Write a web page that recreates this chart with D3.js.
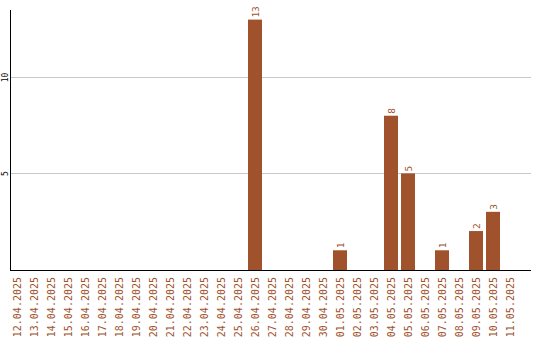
<!DOCTYPE html>
<html><head><meta charset="utf-8">
<script src="https://cdn.jsdelivr.net/npm/d3@7"></script>
<style>body{margin:0;background:#fff}svg{display:block}</style>
</head><body><svg id="c" width="540" height="340"></svg>
<script>
const categories = ["12.04.2025","13.04.2025","14.04.2025","15.04.2025","16.04.2025","17.04.2025","18.04.2025","19.04.2025","20.04.2025","21.04.2025","22.04.2025","23.04.2025","24.04.2025","25.04.2025","26.04.2025","27.04.2025","28.04.2025","29.04.2025","30.04.2025","01.05.2025","02.05.2025","03.05.2025","04.05.2025","05.05.2025","06.05.2025","07.05.2025","08.05.2025","09.05.2025","10.05.2025","11.05.2025"];
const values = [0,0,0,0,0,0,0,0,0,0,0,0,0,0,13,0,0,0,0,1,0,0,8,5,0,1,0,2,3,0];
const yTicks = [5, 10];

const color = "#A0522D";
const font = "DejaVu Sans Mono";
const svg = d3.select("#c");
const x = d3.scaleBand().domain(categories).range([8.5, 518.5]).paddingInner(3/17).paddingOuter(1.5/17);
const y = d3.scaleLinear().domain([0, 13.5]).range([269.5, 10]);

// grid
svg.append("g").selectAll("line").data(yTicks).join("line")
  .attr("x1", 10.5).attr("x2", 531).attr("y1", d => Math.round(y(d)) + 0.5).attr("y2", d => Math.round(y(d)) + 0.5)
  .attr("stroke", "#c8c8c8").attr("stroke-width", 1);

// y tick labels
svg.append("g").selectAll("text").data(yTicks).join("text")
  .attr("transform", d => `translate(5,${Math.round(y(d)) + 0.5}) rotate(-90)`)
  .attr("text-anchor", "middle").attr("dominant-baseline", "central")
  .attr("font-family", font).attr("font-size", 8).attr("fill", "#000")
  .text(d => d);

// bars
const data = categories.map((c, i) => ({c, v: values[i]}));
svg.append("g").selectAll("rect").data(data.filter(d => d.v > 0)).join("rect")
  .attr("x", d => x(d.c)).attr("width", x.bandwidth())
  .attr("y", d => y(d.v)).attr("height", d => y(0) - y(d.v) + 0.5)
  .attr("fill", color);

// value labels
svg.append("g").selectAll("text").data(data.filter(d => d.v > 0)).join("text")
  .attr("transform", d => `translate(${x(d.c) + x.bandwidth()/2},${y(d.v) - 2}) rotate(-90)`)
  .attr("text-anchor", "start").attr("dominant-baseline", "central")
  .attr("font-family", font).attr("font-size", 9.5).attr("fill", color)
  .text(d => d.v);

// axes lines
svg.append("line").attr("x1", 10.5).attr("x2", 10.5).attr("y1", 10).attr("y2", 270.5).attr("stroke", "#000");
svg.append("line").attr("x1", 10).attr("x2", 531).attr("y1", 270.5).attr("y2", 270.5).attr("stroke", "#000");

// x labels
svg.append("g").selectAll("text").data(categories).join("text")
  .attr("transform", d => `translate(${x(d) + x.bandwidth()/2},277) rotate(-90)`)
  .attr("text-anchor", "end").attr("dominant-baseline", "central")
  .attr("font-family", font).attr("font-size", 10).attr("fill", color)
  .text(d => d);
</script></body></html>
